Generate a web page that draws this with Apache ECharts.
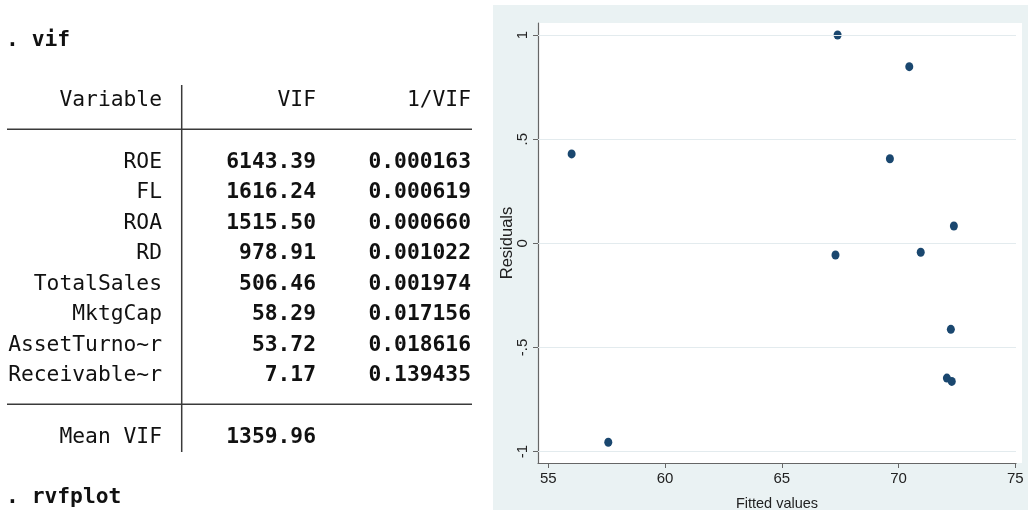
<!DOCTYPE html>
<html>
<head>
<meta charset="utf-8">
<script src="https://cdn.jsdelivr.net/npm/echarts@6/dist/echarts.min.js"></script>
<style>
html,body{margin:0;padding:0;background:#ffffff;}
#main{width:1028px;height:510px;}
</style>
</head>
<body>
<div id="main"></div>
<script>
// ---------- data ----------
const commandVif = '. vif';
const commandRvf = '. rvfplot';
const tableHeaders = ['Variable', 'VIF', '1/VIF'];
const variables = ['ROE', 'FL', 'ROA', 'RD', 'TotalSales', 'MktgCap', 'AssetTurno~r', 'Receivable~r'];
const vifValues = [6143.39, 1616.24, 1515.50, 978.91, 506.46, 58.29, 53.72, 7.17];
const invVifValues = [0.000163, 0.000619, 0.000660, 0.001022, 0.001974, 0.017156, 0.018616, 0.139435];
const meanLabel = 'Mean VIF';
const meanVif = 1359.96;

const fittedValues = [67.39, 70.46, 56.00, 69.63, 72.37, 67.30, 70.95, 72.24, 72.07, 72.28, 57.57];
const residuals    = [1.000, 0.848, 0.429, 0.406, 0.083, -0.056, -0.043, -0.413, -0.647, -0.663, -0.955];
const xTicks = [55, 60, 65, 70, 75];
const yTicks = [-1, -0.5, 0, 0.5, 1];
const yTickLabels = ['-1', '-.5', '0', '.5', '1'];
const xTitle = 'Fitted values';
const yTitle = 'Residuals';

// ---------- layout / style ----------
const monoFs = 21.3;
const monoFamily = "'DejaVu Sans Mono', 'Liberation Mono', monospace";
const midOff = 0.297 * monoFs;           // baseline -> middle offset
const colRight = [162, 316, 471];
const headerBase = 106.7;
const firstRowBase = 168.3;
const rowH = 30.5;
const meanBase = 443.3;
const textColor = '#111111';

function txt(str, x, base, bold, align) {
  return {
    type: 'text',
    z: 10,
    style: {
      text: str,
      x: x,
      y: base - midOff,
      fill: textColor,
      font: (bold ? 'bold ' : '') + monoFs + 'px ' + monoFamily,
      textAlign: align,
      textVerticalAlign: 'middle'
    }
  };
}

const graphics = [];
// chart region background
graphics.push({ type: 'rect', z: -10, shape: { x: 493, y: 5, width: 535, height: 505 }, style: { fill: '#eaf2f3' } });
// plot region
graphics.push({ type: 'rect', z: -9, shape: { x: 538, y: 23, width: 484, height: 440 }, style: { fill: '#ffffff' } });

// table text
graphics.push(txt(commandVif, 6, 46.7, true, 'left'));
tableHeaders.forEach((h, i) => graphics.push(txt(h, colRight[i], headerBase, false, 'right')));
variables.forEach((v, i) => {
  const b = firstRowBase + i * rowH;
  graphics.push(txt(v, colRight[0], b, false, 'right'));
  graphics.push(txt(vifValues[i].toFixed(2), colRight[1], b, true, 'right'));
  graphics.push(txt(invVifValues[i].toFixed(6), colRight[2], b, true, 'right'));
});
graphics.push(txt(meanLabel, colRight[0], meanBase, false, 'right'));
graphics.push(txt(meanVif.toFixed(2), colRight[1], meanBase, true, 'right'));
graphics.push(txt(commandRvf, 6, 503.3, true, 'left'));

// table rules
const ruleStyle = { stroke: '#3a3a3a', lineWidth: 1.5 };
graphics.push({ type: 'line', z: 10, shape: { x1: 181.7, y1: 85, x2: 181.7, y2: 452 }, style: ruleStyle });
graphics.push({ type: 'line', z: 10, shape: { x1: 7, y1: 129.3, x2: 472, y2: 129.3 }, style: ruleStyle });
graphics.push({ type: 'line', z: 10, shape: { x1: 7, y1: 404.3, x2: 472, y2: 404.3 }, style: ruleStyle });

const chart = echarts.init(document.getElementById('main'), null, { renderer: 'canvas' });
const axisFont = "'Liberation Sans', Arial, Helvetica, sans-serif";

const option = {
  animation: false,
  backgroundColor: 'transparent',
  graphic: { elements: graphics },
  grid: {
    left: 538, right: 12, top: 23, bottom: 47,
    show: false,
    containLabel: false,
    outerBoundsMode: 'none'
  },
  xAxis: {
    type: 'value',
    min: 54.56,
    max: 75.03,
    name: xTitle,
    nameLocation: 'middle',
    nameGap: 33,
    nameMoveOverlap: false,
    nameTextStyle: { fontSize: 14.5, color: '#222', fontFamily: axisFont },
    axisLine: { show: true, onZero: false, lineStyle: { color: '#666', width: 1.2 } },
    axisTick: { show: true, customValues: xTicks, length: 5, lineStyle: { color: '#666', width: 1 } },
    axisLabel: {
      customValues: xTicks, margin: 8, fontSize: 15, color: '#222', fontFamily: axisFont,
      formatter: v => String(v)
    },
    splitLine: { show: false }
  },
  yAxis: {
    type: 'value',
    min: -1.0547,
    max: 1.0576,
    name: yTitle,
    nameLocation: 'middle',
    nameGap: 22,
    nameRotate: 90,
    nameMoveOverlap: false,
    nameTextStyle: { fontSize: 16.5, color: '#222', fontFamily: axisFont },
    axisLine: { show: true, onZero: false, lineStyle: { color: '#666', width: 1.2 } },
    axisTick: { show: true, customValues: yTicks, length: 5, lineStyle: { color: '#666', width: 1 } },
    axisLabel: {
      customValues: yTicks, rotate: 90, margin: 8, fontSize: 15, color: '#222', fontFamily: axisFont,
      formatter: v => {
        const idx = yTicks.findIndex(t => Math.abs(t - v) < 1e-9);
        return idx >= 0 ? yTickLabels[idx] : '';
      }
    },
    splitLine: { show: false }
  },
  series: [
    {
      type: 'scatter',
      data: [],
      z: 1,
      silent: true,
      markLine: {
        silent: true,
        symbol: ['none', 'none'],
        label: { show: false },
        lineStyle: { type: 'solid', color: '#e3ebee', width: 1 },
        data: yTicks.map(v => ({ yAxis: v }))
      }
    },
    {
      type: 'scatter',
      z: 3,
      symbol: 'circle',
      symbolSize: [8, 9],
      itemStyle: { color: '#1a476f', opacity: 1 },
      data: fittedValues.map((x, i) => [x, residuals[i]])
    }
  ]
};
chart.setOption(option);
</script>
</body>
</html>
